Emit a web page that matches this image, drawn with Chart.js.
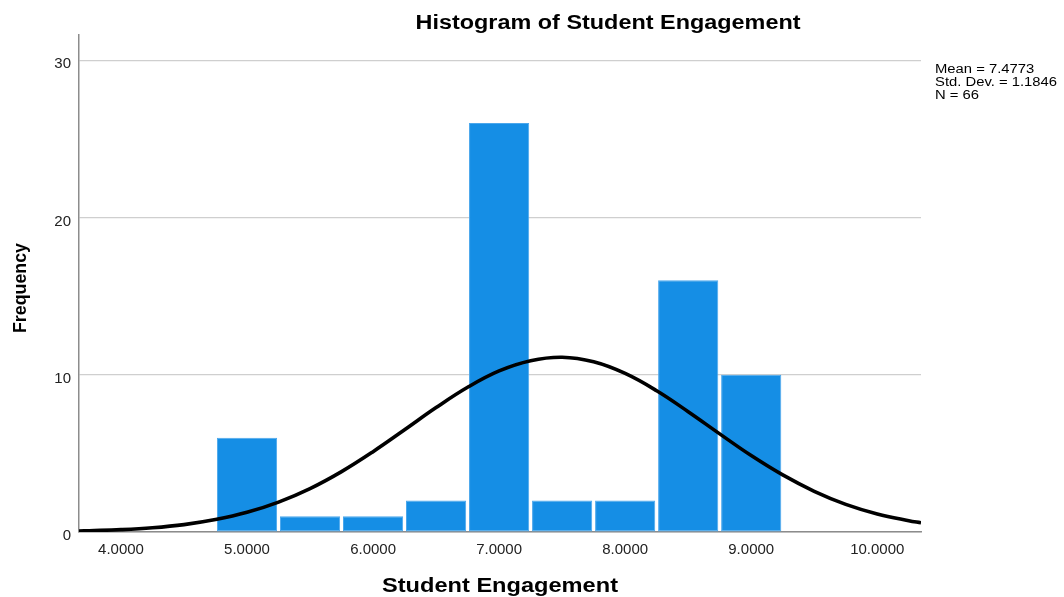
<!DOCTYPE html>
<html>
<head>
<meta charset="utf-8">
<script src="https://cdn.jsdelivr.net/npm/chart.js@4.4.1/dist/chart.umd.min.js"></script>
<style>
  html, body { margin: 0; padding: 0; background: #ffffff; }
  #wrap { width: 1064px; height: 597px; position: relative; }
</style>
</head>
<body>
<div id="wrap"><canvas id="c" width="1064" height="597"></canvas></div>
<script>
// ---- data ----
const binCenters = [5.0, 5.5, 6.0, 6.5, 7.0, 7.5, 8.0, 8.5, 9.0];
const frequencies = [6, 1, 1, 2, 26, 2, 2, 16, 10];

const curveX = [3.667, 3.75, 4.0, 4.25, 4.5, 4.75, 5.0, 5.25, 5.5, 5.75, 6.0, 6.25, 6.5, 6.75,
                7.0, 7.25, 7.5, 7.75, 8.0, 8.25, 8.5, 8.75, 9.0, 9.25, 9.5, 9.75, 10.0, 10.25, 10.347];
const curveY = [0.06, 0.08, 0.15, 0.27, 0.47, 0.79, 1.25, 1.90, 2.76, 3.84, 5.11, 6.50, 7.91, 9.20,
                10.24, 10.89, 11.11, 10.82, 10.08, 8.98, 7.65, 6.24, 4.86, 3.63, 2.59, 1.76, 1.15, 0.72, 0.59];

const xTickValues = [4, 5, 6, 7, 8, 9, 10];
const yTickValues = [0, 10, 20, 30];

const chartTitle = "Histogram of Student Engagement";
const xTitle = "Student Engagement";
const yTitle = "Frequency";
const statsLines = ["Mean = 7.4773", "Std. Dev. = 1.1846", "N = 66"];

// ---- text plugin ----
function stretchText(ctx, text, x, y, font, targetW, align) {
  ctx.save();
  ctx.font = font;
  const w = ctx.measureText(text).width;
  const sx = targetW / w;
  ctx.translate(x, y);
  ctx.scale(sx, 1);
  ctx.textAlign = align || 'center';
  ctx.textBaseline = 'alphabetic';
  ctx.fillText(text, 0, 0);
  ctx.restore();
}

const textPlugin = {
  id: 'texts',
  afterDraw(chart) {
    const ctx = chart.ctx;
    ctx.save();
    ctx.fillStyle = '#000000';
    const fam = '"Liberation Sans", Arial, sans-serif';
    stretchText(ctx, chartTitle, 608, 29, 'bold 19.5px ' + fam, 385, 'center');
    stretchText(ctx, xTitle, 500, 591.5, 'bold 20.5px ' + fam, 236, 'center');
    ctx.save();
    ctx.translate(26, 288);
    ctx.rotate(-Math.PI / 2);
    stretchText(ctx, yTitle, 0, 0, 'bold 17.5px ' + fam, 90, 'center');
    ctx.restore();
    // stats
    const sf = '12.5px ' + fam;
    ctx.font = sf;
    const sx = 122 / ctx.measureText(statsLines[1]).width;
    const base = [73.3, 86, 98.7];
    statsLines.forEach((t, i) => {
      ctx.save();
      ctx.font = sf;
      ctx.translate(935, base[i]);
      ctx.scale(sx, 1);
      ctx.textAlign = 'left';
      ctx.textBaseline = 'alphabetic';
      ctx.fillText(t, 0, 0);
      ctx.restore();
    });
    ctx.restore();
  }
};

const ctx = document.getElementById('c').getContext('2d');
new Chart(ctx, {
  type: 'bar',
  data: {
    datasets: [
      {
        type: 'line',
        label: 'Normal',
        data: curveX.map((x, i) => ({ x: x, y: curveY[i] })),
        borderColor: '#000000',
        borderWidth: 3.6,
        pointRadius: 0,
        tension: 0.4,
        fill: false,
        order: 1
      },
      {
        type: 'bar',
        label: 'Frequency',
        data: binCenters.map((x, i) => ({ x: x, y: frequencies[i] })),
        backgroundColor: '#158ee5',
        borderColor: '#4ba7ec',
        borderWidth: 1,
        borderSkipped: false,
        categoryPercentage: 1.0,
        barPercentage: 0.955,
        order: 2
      }
    ]
  },
  options: {
    responsive: false,
    animation: false,
    layout: { padding: { left: 0, right: 143, top: 35, bottom: 0 } },
    plugins: {
      legend: { display: false },
      title: { display: false },
      tooltip: { enabled: false }
    },
    scales: {
      x: {
        type: 'linear',
        min: 3.667,
        max: 10.347,
        offset: false,
        afterFit(scale) { scale.height = 65; },
        afterBuildTicks(scale) { scale.ticks = xTickValues.map(v => ({ value: v })); },
        grid: { display: false, drawTicks: false },
        border: { display: true, color: '#8c8c8c', width: 1.5 },
        ticks: {
          padding: 9,
          color: '#222222',
          font: { family: '"Liberation Sans", Arial, sans-serif', size: 15 },
          maxRotation: 0,
          autoSkip: false,
          callback: (v) => Number(v).toFixed(4)
        }
      },
      y: {
        min: 0,
        max: 31.6,
        afterFit(scale) { scale.width = 79; },
        afterBuildTicks(scale) { scale.ticks = yTickValues.map(v => ({ value: v })); },
        grid: { color: '#cfcfcf', lineWidth: 1.2, drawTicks: false },
        border: { display: true, color: '#8c8c8c', width: 1.5 },
        ticks: {
          padding: 8,
          labelOffset: 4,
          color: '#222222',
          font: { family: '"Liberation Sans", Arial, sans-serif', size: 15 },
          autoSkip: false
        }
      }
    }
  },
  plugins: [textPlugin]
});
</script>
</body>
</html>
